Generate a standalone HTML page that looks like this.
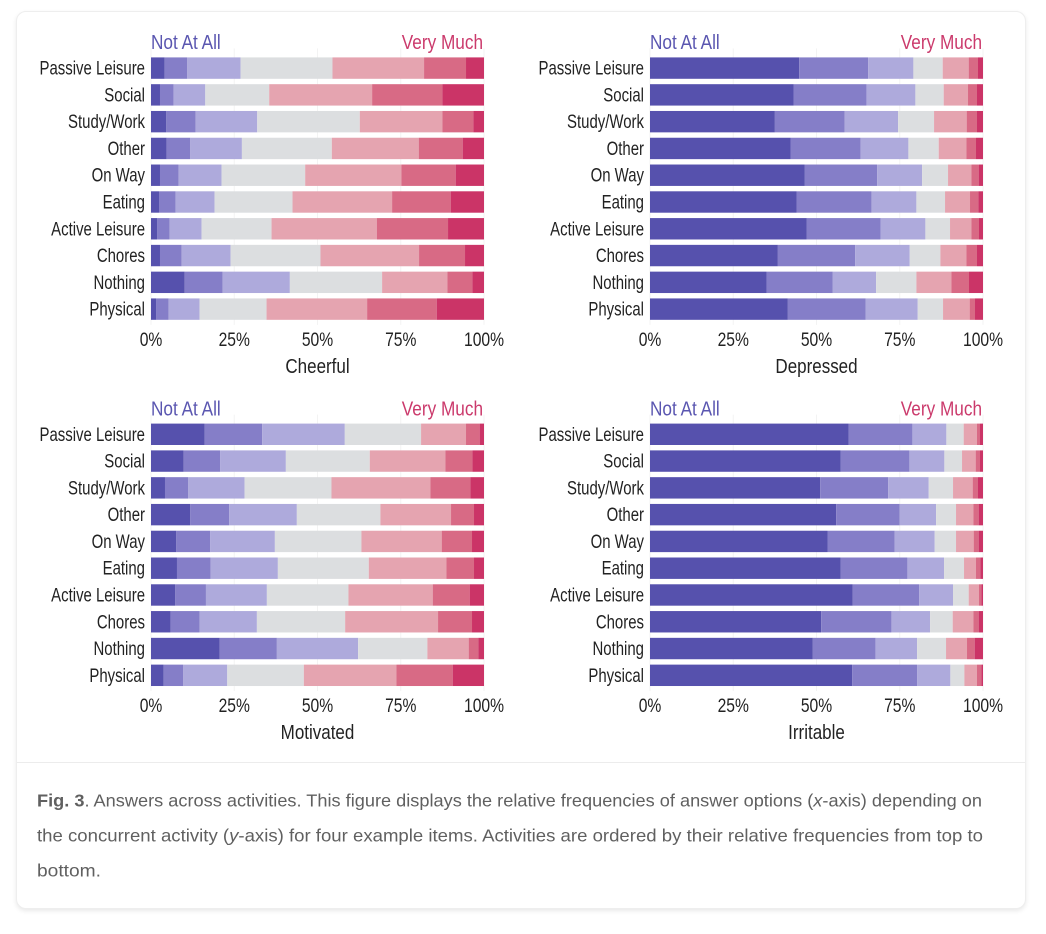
<!DOCTYPE html>
<html lang="en">
<head>
<meta charset="utf-8">
<title>Fig. 3 Answers across activities</title>
<style>
html,body{margin:0;padding:0;background:#fff;width:1046px;height:934px;overflow:hidden}
#figure-card{position:absolute;left:16px;top:11px;width:1008px;height:896px;background:#fff;border:1px solid #eeeeee;border-radius:10px;box-shadow:0 2px 5px rgba(0,0,0,.09)}
#figure-svg{position:absolute;left:0;top:0}
text{font-family:"Liberation Sans",sans-serif}
</style>
</head>
<body>
<div id="figure-card"></div>
<svg id="figure-svg" width="1046" height="934" viewBox="0 0 1046 934" xmlns="http://www.w3.org/2000/svg">
  <g id="charts"></g>
  <line x1="17" x2="1025" y1="762.5" y2="762.5" stroke="#ececec" stroke-width="1"/>
  <g fill="#606060" font-size="17.5">
    <text x="37" y="806.5" textLength="945" lengthAdjust="spacingAndGlyphs"><tspan font-weight="bold">Fig. 3</tspan>. Answers across activities. This figure displays the relative frequencies of answer options (<tspan font-style="italic">x</tspan>-axis) depending on</text>
    <text x="37" y="841.5" textLength="946" lengthAdjust="spacingAndGlyphs">the concurrent activity (<tspan font-style="italic">y</tspan>-axis) for four example items. Activities are ordered by their relative frequencies from top to</text>
    <text x="37" y="876.5" textLength="64" lengthAdjust="spacingAndGlyphs">bottom.</text>
  </g>
</svg>
<script>
const activities = ["Passive Leisure","Social","Study/Work","Other","On Way","Eating","Active Leisure","Chores","Nothing","Physical"];
const tickValues = [0,25,50,75,100];
const answerLevels = ["1-not-at-all","2","3","4","5","6","7-very-much"];
const cheerful = [
  [4.1,6.8,16.0,27.6,27.5,12.6,5.4],
  [2.7,4.1,9.5,19.2,30.9,21.1,12.5],
  [4.6,8.8,18.5,30.8,24.8,9.3,3.2],
  [4.7,7.1,15.5,27.0,26.1,13.2,6.4],
  [2.7,5.6,12.9,25.1,28.9,16.3,8.5],
  [2.4,5.0,11.7,23.4,29.9,17.6,10.0],
  [1.9,3.7,9.6,21.0,31.6,21.4,10.8],
  [2.7,6.5,14.7,27.0,29.6,13.8,5.7],
  [10.1,11.4,20.2,27.7,19.6,7.5,3.5],
  [1.6,3.7,9.3,20.1,30.2,20.9,14.2]
];
const depressed = [
  [44.8,20.7,13.6,8.8,7.8,2.8,1.5],
  [43.1,21.9,14.7,8.5,7.3,2.7,1.8],
  [37.5,20.9,16.1,10.8,9.8,3.1,1.8],
  [42.2,21.0,14.4,9.1,8.3,2.9,2.1],
  [46.5,21.7,13.5,7.8,7.0,2.2,1.3],
  [44.0,22.5,13.5,8.6,7.5,2.5,1.4],
  [47.1,22.2,13.4,7.4,6.4,2.3,1.2],
  [38.4,23.2,16.4,9.2,7.8,3.2,1.8],
  [35.0,19.9,13.0,12.1,10.5,5.3,4.2],
  [41.4,23.4,15.6,7.6,8.0,1.6,2.4]
];
const motivated = [
  [16.1,17.3,24.8,22.9,13.5,4.1,1.3],
  [9.8,11.0,19.7,25.2,22.7,8.1,3.5],
  [4.2,7.0,16.9,26.1,29.7,12.0,4.1],
  [11.8,11.7,20.3,25.1,21.2,6.9,3.0],
  [7.6,10.2,19.4,26.0,24.1,9.1,3.6],
  [7.8,10.1,20.2,27.3,23.3,8.3,3.0],
  [7.3,9.2,18.3,24.5,25.3,11.1,4.3],
  [5.9,8.7,17.2,26.5,27.9,10.2,3.6],
  [20.6,17.2,24.4,20.8,12.4,2.9,1.7],
  [3.8,5.9,13.2,23.0,27.8,16.9,9.4]
];
const irritable = [
  [59.6,19.2,10.2,5.2,4.0,0.9,0.9],
  [57.3,20.6,10.5,5.3,4.1,1.3,0.9],
  [51.1,20.4,12.2,7.3,5.9,1.6,1.5],
  [55.9,19.1,10.9,6.0,5.2,1.6,1.3],
  [53.3,20.2,12.0,6.4,5.3,1.5,1.3],
  [57.3,20.0,11.0,6.0,3.6,1.3,0.8],
  [60.9,19.9,10.2,4.7,3.1,0.7,0.5],
  [51.4,21.1,11.6,6.8,6.2,1.6,1.3],
  [48.9,18.8,12.5,8.7,6.3,2.3,2.5],
  [60.7,19.5,10.0,4.2,3.8,1.3,0.5]
];
const levelColors = ["#5651ad","#857ec8","#aeaadc","#dcdee0","#e5a4b0","#d86a85","#cb3467"];

const SVG_NS = "http://www.w3.org/2000/svg";
const PLOT_WIDTH = 333;
const BAR_HEIGHT = 21.4;
const BAR_PITCH = 26.78;

function makeText(parent, str, x, y, anchor, fill, size, scaleX) {
  const t = document.createElementNS(SVG_NS, "text");
  t.setAttribute("transform", "translate(" + x + "," + y + ") scale(" + scaleX + ",1)");
  t.setAttribute("text-anchor", anchor);
  t.setAttribute("fill", fill);
  t.setAttribute("font-size", size);
  t.textContent = str;
  parent.appendChild(t);
  return t;
}

function drawPanel(title, rows, left, top) {
  const root = document.getElementById("charts");
  const xScale = function (v) { return left + v / 100 * PLOT_WIDTH; };
  const yScale = function (i) { return top + i * BAR_PITCH; };
  const bottom = yScale(activities.length - 1) + BAR_HEIGHT;
  const slug = title.toLowerCase();

  const panel = document.createElementNS(SVG_NS, "g");
  
  
  root.appendChild(panel);

  tickValues.forEach(function (tick) {
    const grid = document.createElementNS(SVG_NS, "line");
    grid.setAttribute("x1", xScale(tick));
    grid.setAttribute("x2", xScale(tick));
    grid.setAttribute("y1", top - 9);
    grid.setAttribute("y2", bottom + 5);
    grid.setAttribute("stroke", "#f3f3f3");
    
    
    panel.appendChild(grid);
  });

  const lowLabel = makeText(panel, "Not At All", left, top - 8.2, "start", "#5a56b0", 20, 0.86);
  
  
  const highLabel = makeText(panel, "Very Much", left + PLOT_WIDTH - 1, top - 8.2, "end", "#cb3a6c", 20, 0.86);
  
  

  activities.forEach(function (activity, i) {
    const label = makeText(panel, activity, left - 6, yScale(i) + 17.2, "end", "#222", 19.5, 0.767);
    
    
    let cumulative = 0;
    rows[i].forEach(function (value, j) {
      const bar = document.createElementNS(SVG_NS, "rect");
      const x0 = xScale(cumulative);
      cumulative += value;
      bar.setAttribute("x", x0);
      bar.setAttribute("y", yScale(i));
      bar.setAttribute("width", xScale(cumulative) - x0);
      bar.setAttribute("height", BAR_HEIGHT);
      bar.setAttribute("fill", levelColors[j]);
      
      
      panel.appendChild(bar);
    });
  });

  tickValues.forEach(function (tick) {
    const tickLabel = makeText(panel, tick + "%", xScale(tick), bottom + 26.2, "middle", "#222", 19, 0.824);
    
    
  });

  const axisTitle = makeText(panel, title, xScale(50), bottom + 53, "middle", "#222", 20, 0.85);
  
  
}

drawPanel("Cheerful", cheerful, 151, 57.4);
drawPanel("Depressed", depressed, 650, 57.4);
drawPanel("Motivated", motivated, 151, 423.6);
drawPanel("Irritable", irritable, 650, 423.6);
</script>
</body>
</html>
